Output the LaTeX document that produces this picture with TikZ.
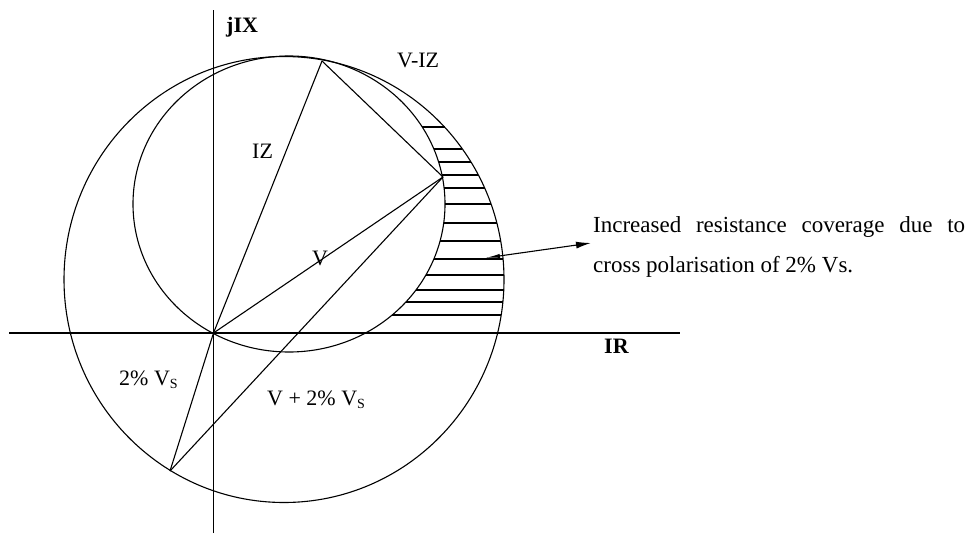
\documentclass[tikz,border=0pt]{standalone}
\usepackage{fontspec}
\setmainfont{Liberation Serif}
\usetikzlibrary{arrows.meta}
\begin{document}
\begin{tikzpicture}[x=1pt,y=-1pt,
  ln/.style={line width=1.1pt, draw=black},
  lbl/.style={inner sep=0pt, anchor=base west, font=\fontsize{22}{22}\selectfont},
  axlbl/.style={inner sep=0pt, anchor=base west, font=\fontsize{22}{22}\selectfont\bfseries},
  notelbl/.style={inner sep=0pt, anchor=base west, font=\fontsize{23}{23}\selectfont},
  pointer/.style={ln, {Latex[length=15pt,width=4pt]}-{Latex[length=15pt,width=7pt]}}
]
\useasboundingbox (0,0) rectangle (974,533);

% axes
\coordinate (yb) at (213.5,533);
\coordinate (yt) at (213.5,10);
\coordinate (xl) at (9,333);
\coordinate (xr) at (680,333);
\draw[ln] (yb) -- (yt);
\draw[ln] (xl) -- (xr);

% circles
\coordinate (ic) at (289,204);
\coordinate (oc) at (284,279.5);
\draw[ln] (ic) ellipse [x radius=156pt, y radius=148pt];
\draw[ln] (oc) ellipse [x radius=220pt, y radius=223pt];

% hatching
\foreach \yy/\xa/\xb in {127/422.2/444.5, 149/433.8/462.4, 162/438.6/471.0,
  175/442.0/478.4, 188/444.1/484.6, 204/445.0/491.0, 223/443.7/496.8,
  241/440.0/500.7, 259/433.8/503.1, 275/425.9/504.0, 290/416.0/503.8,
  302/405.8/502.9, 315/392.2/501.2}
  \draw[ln] (\xa,\yy) -- (\xb,\yy);

% phasor points
\coordinate (O) at (213.5,333);
\coordinate (A) at (322,61);
\coordinate (B) at (443,177);
\coordinate (C) at (170,471);
\draw[ln] (O) -- (A);
\draw[ln] (A) -- (B);
\draw[ln] (O) -- (B);
\draw[ln] (C) -- (O);
\draw[ln] (C) -- (B);

% labels
\node[axlbl] (jix) at (226,32) {jIX};
\node[axlbl] (ir) at (604,353) {IR};
\node[lbl] (viz) at (397,67) {V-IZ};
\node[lbl] (iz) at (252,158) {IZ};
\node[lbl] (v) at (312,265) {V};
\node[lbl] (vs) at (119,385) {2\% V{\fontsize{14}{14}\selectfont\raisebox{-3pt}{S}}};
\node[lbl] (vpvs) at (267,405) {V + 2\% V{\fontsize{14}{14}\selectfont\raisebox{-3pt}{S}}};

% note
\node[notelbl] (note1) at (593,232) {\makebox[372pt][s]{Increased resistance coverage due to}};
\node[notelbl] (note2) at (593,272) {cross polarisation of 2\% Vs.};
\coordinate (as) at (485,258);
\coordinate (ae) at (591,243);
\draw[pointer] (as) -- (ae);
\end{tikzpicture}
\end{document}
